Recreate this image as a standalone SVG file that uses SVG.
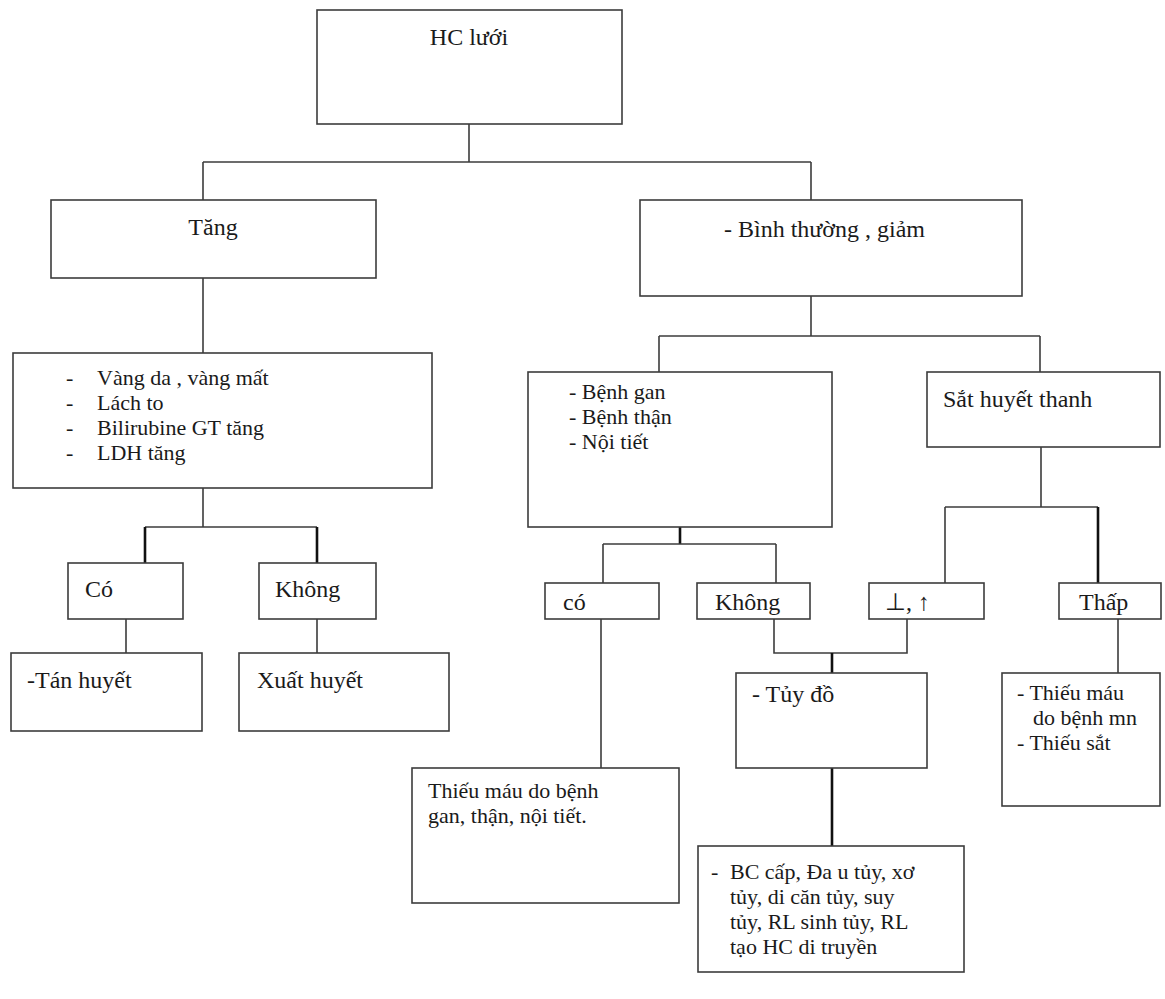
<svg xmlns="http://www.w3.org/2000/svg" width="1165" height="999" viewBox="0 0 1165 999">
<style>
.bg{fill:#ffffff}
.box{fill:#ffffff;stroke:#3c3c3c;stroke-width:1.6}
.ln{fill:none;stroke:#3c3c3c;stroke-width:1.6}
.lk{fill:none;stroke:#111111;stroke-width:2.6}
text{font-family:"Liberation Serif","Times New Roman",serif;font-size:24px;fill:#1a1a1a}
.m{font-size:22px}
.c{text-anchor:middle}
</style>
<rect class="bg" x="0" y="0" width="1165" height="999"/>
<g id="connectors">
<path class="ln" d="M469,124V162M203,162H811M203,162V200M811,162V200"/>
<path class="ln" d="M203,278V353"/>
<path class="ln" d="M203,488V527M145,527H317"/>
<path class="lk" d="M145,527V563M317,527V563"/>
<path class="ln" d="M126,619V653M317,619V653"/>
<path class="ln" d="M811,296V336M659,336H1040M659,336V372M1040,336V372"/>
<path class="lk" d="M680,527V544"/>
<path class="ln" d="M603,544H776M603,544V583M776,544V583"/>
<path class="ln" d="M601,619V768"/>
<path class="ln" d="M774,619V653H907V619"/>
<path class="lk" d="M832,653V673"/>
<path class="ln" d="M1041,447V507M945,507H1098M945,507V583"/>
<path class="lk" d="M1098,507V583"/>
<path class="ln" d="M1118,619V673"/>
<path class="lk" d="M832,768V846"/>
</g>
<g id="n_hc"><rect class="box" x="317" y="10" width="305" height="114"/><text class="c" x="469" y="45">HC lưới</text></g>
<g id="n_tang"><rect class="box" x="51" y="200" width="325" height="78"/><text class="c" x="213" y="235">Tăng</text></g>
<g id="n_binh"><rect class="box" x="640" y="200" width="382" height="96"/><text x="724" y="237">- Bình thường , giảm</text></g>
<g id="n_sym"><rect class="box" x="13" y="353" width="419" height="135"/>
<text class="m" x="66" y="385">-</text><text class="m" x="97" y="385">Vàng da , vàng mất</text>
<text class="m" x="66" y="410">-</text><text class="m" x="97" y="410">Lách to</text>
<text class="m" x="66" y="435">-</text><text class="m" x="97" y="435">Bilirubine GT tăng</text>
<text class="m" x="66" y="460">-</text><text class="m" x="97" y="460">LDH tăng</text></g>
<g id="n_benh"><rect class="box" x="528" y="372" width="304" height="155"/>
<text class="m" x="569" y="399">- Bệnh gan</text><text class="m" x="569" y="424">- Bệnh thận</text><text class="m" x="569" y="449">- Nội tiết</text></g>
<g id="n_sat"><rect class="box" x="927" y="372" width="233" height="75"/><text x="943" y="407">Sắt huyết thanh</text></g>
<g id="n_co"><rect class="box" x="68" y="563" width="115" height="56"/><text x="85" y="597">Có</text></g>
<g id="n_khong"><rect class="box" x="259" y="563" width="117" height="56"/><text x="275" y="597">Không</text></g>
<g id="n_tan"><rect class="box" x="11" y="653" width="191" height="78"/><text x="27" y="688">-Tán huyết</text></g>
<g id="n_xuat"><rect class="box" x="239" y="653" width="210" height="78"/><text x="257" y="688">Xuất huyết</text></g>
<g id="n_co2"><rect class="box" x="545" y="583" width="114" height="36"/><text x="563" y="610">có</text></g>
<g id="n_khong2"><rect class="box" x="697" y="583" width="113" height="36"/><text x="715" y="610">Không</text></g>
<g id="n_up"><rect class="box" x="869" y="583" width="115" height="36"/><text x="885" y="610">⊥, ↑</text></g>
<g id="n_thap"><rect class="box" x="1059" y="583" width="102" height="36"/><text x="1079" y="610">Thấp</text></g>
<g id="n_tuy"><rect class="box" x="736" y="673" width="191" height="95"/><text x="752" y="702">- Tủy đồ</text></g>
<g id="n_thieu"><rect class="box" x="1002" y="673" width="158" height="133"/>
<text class="m" x="1017" y="700">- Thiếu máu</text><text class="m" x="1033" y="725">do bệnh mn</text><text class="m" x="1017" y="750">- Thiếu sắt</text></g>
<g id="n_gan"><rect class="box" x="412" y="768" width="267" height="135"/>
<text class="m" x="428" y="798">Thiếu máu do bệnh</text><text class="m" x="428" y="823">gan, thận, nội tiết.</text></g>
<g id="n_bc"><rect class="box" x="698" y="846" width="266" height="126"/>
<text class="m" x="711" y="879">-</text><text class="m" x="730" y="879">BC cấp, Đa u tủy, xơ</text>
<text class="m" x="730" y="904">tủy, di căn tủy, suy</text>
<text class="m" x="730" y="929">tủy, RL sinh tủy, RL</text>
<text class="m" x="730" y="954">tạo HC di truyền</text></g>
</svg>
